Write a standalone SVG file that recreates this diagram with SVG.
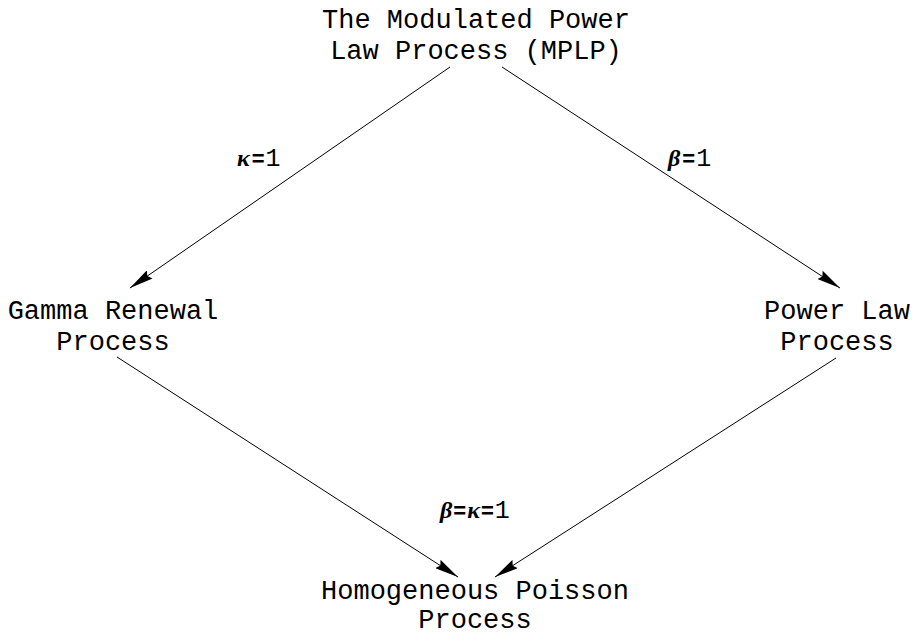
<svg xmlns="http://www.w3.org/2000/svg" width="916" height="635" viewBox="0 0 916 635">
<style>
.n{font-family:"Liberation Mono","Courier New",monospace;font-size:27px;fill:#000;text-anchor:middle}
.l{font-size:22px;fill:#000}
.g{font-family:"Liberation Serif",serif;font-style:italic;font-weight:bold;font-size:24px}
.e{font-family:"Liberation Sans",sans-serif;font-weight:bold;font-size:22px}
.o{font-family:"Liberation Mono",monospace;font-size:25px}
.c{stroke:#000;stroke-width:1;fill:none}
</style>
<defs>
<marker id="ah" viewBox="0 0 24 10" refX="24" refY="5" markerWidth="24" markerHeight="10" markerUnits="userSpaceOnUse" orient="auto">
<path d="M0,0 L24,5 L0,10 L3,5 Z" fill="#000"/>
</marker>
</defs>
<rect width="916" height="635" fill="#fff"/>
<g id="connectors">
<line class="c" x1="450" y1="67" x2="130" y2="288" marker-end="url(#ah)"/>
<line class="c" x1="502" y1="67" x2="840" y2="288" marker-end="url(#ah)"/>
<line class="c" x1="117" y1="357" x2="458" y2="577" marker-end="url(#ah)"/>
<line class="c" x1="836" y1="358" x2="495" y2="577" marker-end="url(#ah)"/>
<text class="l" x="237" y="166"><tspan class="g">κ</tspan><tspan class="e" dx="2">=</tspan><tspan class="o" dx="1">1</tspan></text>
<text class="l" x="668" y="166"><tspan class="g">β</tspan><tspan class="e" dx="2">=</tspan><tspan class="o" dx="1">1</tspan></text>
<text class="l" x="440" y="518"><tspan class="g">β</tspan><tspan class="e" dx="1">=</tspan><tspan class="g" dx="1">κ</tspan><tspan class="e" dx="1">=</tspan><tspan class="o" dx="1">1</tspan></text>
</g>
<g id="mplp">
<text class="n" x="476" y="28">The Modulated Power</text>
<text class="n" x="476" y="59">Law Process (MPLP)</text>
</g>
<g id="gamma">
<text class="n" x="113" y="319">Gamma Renewal</text>
<text class="n" x="113" y="350">Process</text>
</g>
<g id="powerlaw">
<text class="n" x="837" y="319">Power Law</text>
<text class="n" x="837" y="350">Process</text>
</g>
<g id="hpp">
<text class="n" x="475" y="599">Homogeneous Poisson</text>
<text class="n" x="475" y="628">Process</text>
</g>
</svg>
